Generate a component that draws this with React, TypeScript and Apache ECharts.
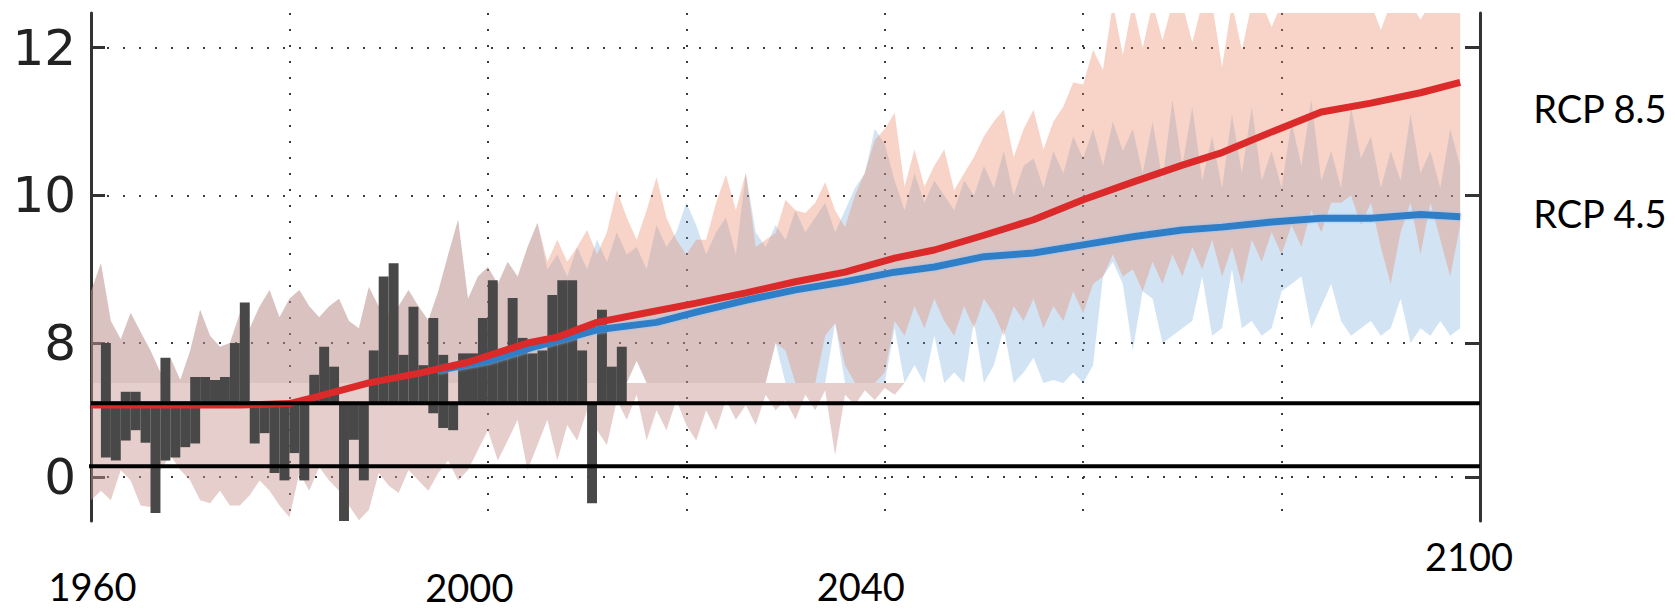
import { useEffect, useRef } from 'react';
import * as echarts from 'echarts';

// ---------- axis ticks ----------
const yTickValues = [6.183, 8, 10, 12];
const yTickLabels = ['0', '8', '10', '12'];
const xTickValues = [1960, 2000, 2040, 2100];
const xTickLabels = ['1960', '2000', '2040', '2100'];
// label placement relative to its tick: [dx, dy below the plot bottom]
const xLabelShift = [[1.5, 65], [-18.5, 66], [-24, 65], [-11, 35]];

// ---------- ensemble ranges ----------
const bandStartYear = 1960;

// historical range (shared by both scenarios), 1960-2005
const histUpper = [8.7, 9.08, 8.3, 8.05, 8.41, 8.15, 7.9, 7.6, 7.8, 7.5, 7.9, 8.45, 8.1, 7.95, 8.0, 8.4, 8.2, 8.5, 8.72, 8.35, 8.6, 8.72, 8.5, 8.35, 8.5, 8.6, 8.3, 8.2, 8.76, 8.5, 8.4, 8.5, 8.72, 8.5, 8.31, 8.7, 9.2, 9.67, 8.6, 8.9, 9.03, 8.8, 9.1, 8.9, 9.3, 9.63];
const histLower = [7.46, 7.46, 7.46, 7.46, 7.46, 7.46, 7.46, 7.46, 7.46, 7.46, 7.46, 7.46, 7.46, 7.46, 7.46, 7.46, 7.46, 7.46, 7.46, 7.46, 7.46, 7.46, 7.46, 7.46, 7.46, 7.46, 7.46, 7.46, 7.46, 7.46, 7.46, 7.46, 7.46, 7.46, 7.46, 7.46, 7.46, 7.46, 7.46, 7.46, 7.46, 7.46, 7.46, 7.46, 7.46, 7.46];

// RCP 8.5 range, 2006-2098
const rcp85Upper = [9.1, 9.4, 9.1, 9.3, 9.53, 9.2, 9.5, 10.07, 9.7, 9.4, 9.8, 10.25, 9.7, 9.4, 9.2, 9.4, 9.4, 9.9, 10.28, 9.8, 10.31, 9.3, 9.4, 9.49, 9.94, 9.8, 9.76, 9.9, 10.18, 9.8, 9.57, 10.0, 10.31, 10.75, 10.9, 11.12, 10.12, 10.62, 10.12, 10.4, 10.62, 10.07, 10.3, 10.52, 10.8, 11.0, 11.16, 10.52, 10.9, 11.16, 10.62, 11.0, 11.2, 11.53, 11.5, 11.97, 11.7, 12.6, 11.9, 12.6, 12.0, 12.6, 12.1, 12.6, 12.6, 12.07, 12.6, 12.6, 11.74, 12.6, 11.97, 12.6, 12.6, 12.28, 12.6, 12.6, 12.6, 12.6, 12.6, 12.6, 12.6, 12.6, 12.6, 12.6, 12.24, 12.6, 12.6, 12.6, 12.38, 12.6, 12.6, 12.6, 12.6];
const rcp85Lower = [7.46, 7.46, 7.46, 7.46, 7.46, 7.46, 7.46, 7.46, 7.46, 7.76, 7.46, 7.46, 7.46, 7.46, 7.46, 7.46, 7.46, 7.46, 7.46, 7.46, 7.46, 7.46, 7.46, 8.0, 7.9, 7.46, 7.46, 7.46, 8.1, 8.27, 7.7, 7.46, 7.46, 7.46, 7.6, 8.3, 8.1, 8.5, 8.2, 8.6, 8.3, 8.1, 8.5, 8.2, 8.6, 8.4, 8.1, 8.5, 8.3, 8.6, 8.2, 8.5, 8.3, 8.7, 8.4, 8.8, 8.9, 9.2, 8.9, 9.0, 8.7, 9.1, 8.8, 9.2, 8.9, 9.3, 9.0, 9.4, 8.9, 9.3, 8.8, 9.4, 9.1, 9.5, 9.2, 9.6, 9.3, 9.8, 9.5, 9.9, 9.9, 10.0, 9.6, 9.9, 9.3, 8.8, 9.5, 9.9, 9.2, 9.9, 9.4, 8.9, 9.6];

// RCP 4.5 range, 2006-2098
const rcp45Upper = [9.0, 9.2, 8.9, 9.3, 9.0, 9.4, 9.1, 9.5, 9.2, 9.3, 9.0, 9.6, 9.3, 9.5, 9.9, 9.6, 9.2, 9.5, 9.7, 9.2, 10.3, 9.5, 9.3, 9.6, 9.4, 9.8, 9.5, 9.7, 9.9, 9.5, 9.8, 10.1, 10.3, 10.9, 10.7, 10.2, 9.8, 10.3, 9.9, 10.2, 10.0, 9.8, 10.2, 10.0, 10.4, 10.1, 10.6, 10.0, 10.4, 10.5, 10.1, 10.6, 10.3, 10.8, 10.5, 10.9, 10.4, 11.0, 10.6, 10.9, 10.3, 11.0, 10.2, 11.3, 10.4, 11.2, 10.2, 10.8, 10.1, 11.1, 10.3, 11.2, 10.2, 10.6, 10.1, 11.0, 10.4, 11.3, 10.2, 10.6, 10.1, 11.2, 10.5, 10.8, 10.1, 10.6, 10.2, 11.1, 10.3, 10.6, 10.1, 10.9, 10.4];
const rcp45Lower = [7.46, 7.46, 7.46, 7.46, 7.46, 7.46, 7.46, 7.46, 7.46, 7.76, 7.46, 7.46, 7.46, 7.46, 7.46, 7.46, 7.46, 7.46, 7.46, 7.46, 7.46, 7.46, 7.46, 8.0, 7.46, 7.46, 7.46, 7.46, 7.46, 8.27, 7.46, 7.46, 7.46, 7.46, 7.46, 8.2, 7.46, 7.7, 7.46, 8.1, 7.46, 7.6, 7.46, 8.3, 7.46, 7.7, 8.2, 7.46, 7.6, 7.8, 7.46, 7.5, 7.46, 7.6, 7.46, 7.7, 8.9, 9.1, 8.8, 7.9, 8.7, 8.6, 8.0, 8.1, 8.2, 8.3, 8.9, 8.1, 8.2, 9.0, 8.2, 8.3, 8.1, 8.2, 8.7, 8.8, 8.9, 8.2, 8.5, 8.8, 8.3, 8.1, 8.2, 8.3, 8.1, 8.2, 8.6, 8.0, 8.2, 8.1, 8.3, 8.1, 8.2];

// lower strip of the range, 1960-2042 (top edge at the strip cut)
const stripTop = 7.46;
const stripLower = [5.87, 6.0, 5.87, 6.28, 6.14, 5.8, 5.78, 6.28, 6.48, 6.28, 6.14, 5.87, 5.83, 6.0, 5.8, 5.8, 5.94, 6.14, 6.0, 5.8, 5.64, 6.24, 6.0, 6.32, 6.14, 6.0, 5.8, 5.6, 5.74, 6.24, 6.07, 5.97, 6.28, 6.14, 6.0, 6.24, 6.41, 6.14, 6.28, 6.55, 6.82, 6.41, 6.68, 6.96, 6.28, 6.62, 6.96, 6.41, 6.89, 6.68, 7.09, 6.82, 6.62, 7.23, 6.96, 7.3, 6.68, 7.09, 6.82, 7.23, 6.89, 6.68, 7.09, 6.82, 7.23, 6.96, 7.16, 6.89, 7.3, 7.09, 7.23, 6.96, 7.3, 7.09, 7.36, 6.48, 7.3, 7.16, 7.36, 7.23, 7.39, 7.3, 7.46];

// ---------- observations (bar bottom, bar top), 1960-2013 ----------
const obsStartYear = 1960;
const obsBars = [
  [7.19, 7.19], [6.45, 8.0], [6.41, 7.19], [6.68, 7.34], [6.82, 7.34], [6.65, 7.19], [5.7, 7.19], [6.41, 7.8], [6.45, 7.19], [6.59, 7.19],
  [6.64, 7.54], [7.19, 7.54], [7.19, 7.5], [7.19, 7.54], [7.19, 8.0], [7.19, 8.55], [6.64, 7.19], [6.78, 7.19], [6.24, 7.19], [6.14, 7.19],
  [6.51, 7.19], [6.14, 7.19], [7.19, 7.57], [7.19, 7.95], [7.19, 7.68], [5.57, 7.19], [6.69, 7.19], [6.14, 7.19], [7.19, 7.9], [7.19, 8.9],
  [7.19, 9.08], [7.19, 7.84], [7.19, 8.49], [7.19, 7.7], [7.05, 8.34], [6.85, 7.84], [6.82, 7.19], [7.19, 7.86], [7.19, 7.86], [7.19, 8.34],
  [7.19, 8.85], [7.19, 7.9], [7.19, 8.61], [7.19, 8.07], [7.19, 7.86], [7.19, 7.9], [7.19, 8.65], [7.19, 8.85], [7.19, 8.85], [7.19, 7.9],
  [5.83, 7.19], [7.19, 8.45], [7.19, 7.68], [7.19, 7.95],
];

// ---------- ensemble means ----------
const rcp85MeanYears = [1960, 1965, 1970, 1975, 1980, 1983, 1988, 1993, 1998, 2004, 2007, 2011, 2016, 2021, 2026, 2031, 2036, 2041, 2045, 2050, 2055, 2060, 2065, 2070, 2074, 2079, 2084, 2089, 2094, 2098];
const rcp85MeanValues = [7.16, 7.16, 7.16, 7.16, 7.18, 7.28, 7.46, 7.59, 7.74, 8.0, 8.08, 8.28, 8.41, 8.54, 8.68, 8.83, 8.96, 9.15, 9.26, 9.46, 9.67, 9.94, 10.18, 10.41, 10.58, 10.86, 11.13, 11.25, 11.39, 11.53];
const rcp45MeanYears = [1995, 2000, 2005, 2011, 2017, 2021, 2026, 2031, 2036, 2041, 2045, 2050, 2055, 2060, 2065, 2070, 2074, 2079, 2084, 2089, 2094, 2098];
const rcp45MeanValues = [7.63, 7.76, 7.96, 8.18, 8.28, 8.42, 8.58, 8.72, 8.83, 8.96, 9.03, 9.17, 9.22, 9.33, 9.44, 9.53, 9.57, 9.64, 9.69, 9.69, 9.74, 9.71];

// ---------- reference lines ----------
const refLineUpper = [[1960, 7.186], [2100, 7.186]];
const refLineLower = [[1958.3, 6.332], [2100, 6.332]];

const scenarioNames = ['RCP 8.5', 'RCP 4.5'];

const Y_MIN = 5.59;
const Y_MAX = 12.47;
const LABEL_FONT = 'Lato';

function bandSeries(id: string, lo: number[], hi: number[], startYear: number, color: string) {
  const years = lo.map((_, i) => startYear + i);
  return {
    type: 'custom',
    id,
    silent: true,
    clip: true,
    encode: { x: 0, y: [1, 2] },
    data: years.map((y, i) => [y, lo[i], hi[i]]),
    renderItem: (params: any, api: any) => {
      if (params.dataIndex !== 0) return null;
      const upper = years.map((y, i) => api.coord([y, hi[i]]));
      const lower = years.map((y, i) => api.coord([y, lo[i]])).reverse();
      return {
        type: 'polygon',
        shape: { points: upper.concat(lower) },
        style: { fill: color, stroke: 'none' },
      };
    },
  };
}

export default function App() {
  const ref = useRef<HTMLDivElement>(null);
  useEffect(() => {
    const chart = echarts.init(ref.current as HTMLDivElement, null, { renderer: 'svg' });

    const rcp45Lo = histLower.concat(rcp45Lower);
    const rcp45Hi = histUpper.concat(rcp45Upper);
    const rcp85Lo = histLower.concat(rcp85Lower);
    const rcp85Hi = histUpper.concat(rcp85Upper);
    const stripHi = stripLower.map(() => stripTop);

    const dotted = { color: '#3a3a3a', width: 2, type: [2, 14] as any };

    const option: any = {
      animation: false,
      backgroundColor: '#fff',
      grid: { left: 91, right: 195, top: 13, bottom: 89, containLabel: false, outerBoundsMode: 'none' },
      xAxis: {
        type: 'value',
        min: 1960,
        max: 2100,
        interval: 20,
        axisLine: { show: false },
        axisTick: { show: false },
        splitLine: { show: true, lineStyle: dotted },
        axisLabel: { show: false },
      },
      yAxis: [
        {
          type: 'value',
          position: 'left',
          min: Y_MIN,
          max: Y_MAX,
          axisLine: { show: true, lineStyle: { color: '#333', width: 3 } },
          axisTick: { show: true, inside: true, length: 14, customValues: yTickValues, lineStyle: { color: '#333', width: 3 } },
          axisLabel: {
            customValues: yTickValues,
            margin: 15,
            fontFamily: 'DejaVu Sans',
            fontSize: 50,
            color: '#222',
            formatter: (v: number) => {
              const i = yTickValues.findIndex((t) => Math.abs(t - v) < 0.01);
              return i >= 0 ? yTickLabels[i] : '';
            },
          },
          splitLine: { show: true, lineStyle: dotted },
        },
        {
          type: 'value',
          position: 'right',
          min: Y_MIN,
          max: Y_MAX,
          axisLine: { show: true, lineStyle: { color: '#333', width: 3 } },
          axisTick: { show: true, inside: true, length: 15, customValues: yTickValues, lineStyle: { color: '#333', width: 3 } },
          axisLabel: { show: false },
          splitLine: { show: false },
        },
      ],
      series: [
        bandSeries('rcp45Range', rcp45Lo, rcp45Hi, bandStartYear, 'rgba(105,165,218,0.3)'),
        bandSeries('rcp85Range', rcp85Lo, rcp85Hi, bandStartYear, 'rgba(235,132,98,0.35)'),
        bandSeries('stripRange', stripLower, stripHi, bandStartYear, 'rgba(200,150,145,0.47)'),
        {
          type: 'custom',
          id: 'obs',
          silent: true,
          clip: true,
          encode: { x: 0, y: [1, 2] },
          data: obsBars.map((b, i) => [obsStartYear + i, b[0], b[1]]),
          renderItem: (_p: any, api: any) => {
            const year = api.value(0);
            const top = api.coord([year, api.value(2)]);
            const bottom = api.coord([year + 1, api.value(1)]);
            return {
              type: 'rect',
              shape: { x: top[0], y: top[1], width: bottom[0] - top[0], height: bottom[1] - top[1] },
              style: { fill: '#484848' },
            };
          },
        },
        {
          type: 'line',
          id: 'rcp45Mean',
          symbol: 'none',
          silent: true,
          data: rcp45MeanYears.map((y, i) => [y, rcp45MeanValues[i]]),
          lineStyle: { color: '#2d7ec8', width: 7, shadowColor: 'rgba(140,195,245,0.9)', shadowBlur: 3 },
          endLabel: {
            show: true,
            formatter: scenarioNames[1],
            distance: 73,
            offset: [0, -4],
            fontFamily: LABEL_FONT,
            fontSize: 38,
            color: '#000',
          },
        },
        {
          type: 'line',
          id: 'rcp85Mean',
          symbol: 'none',
          silent: true,
          data: rcp85MeanYears.map((y, i) => [y, rcp85MeanValues[i]]),
          lineStyle: { color: '#dc2a2a', width: 7 },
          endLabel: {
            show: true,
            formatter: scenarioNames[0],
            distance: 73,
            offset: [0, 26],
            fontFamily: LABEL_FONT,
            fontSize: 38,
            color: '#000',
          },
        },
        {
          type: 'line',
          id: 'refUpper',
          symbol: 'none',
          silent: true,
          clip: false,
          data: refLineUpper,
          lineStyle: { color: '#000', width: 4 },
          z: 5,
        },
        {
          type: 'line',
          id: 'refLower',
          symbol: 'none',
          silent: true,
          clip: false,
          data: refLineLower,
          lineStyle: { color: '#000', width: 4 },
          z: 5,
        },
      ],
    };
    chart.setOption(option);

    // year labels below the plot, placed from the x axis scale
    const baseY = chart.convertToPixel({ yAxisIndex: 0 }, Y_MIN) as number;
    const graphics = xTickValues.map((v, i) => {
      const px = chart.convertToPixel({ xAxisIndex: 0 }, v) as number;
      return {
        type: 'text',
        x: px + xLabelShift[i][0],
        y: baseY + xLabelShift[i][1],
        silent: true,
        style: {
          text: xTickLabels[i],
          fontFamily: LABEL_FONT,
          fontSize: 38,
          fill: '#000',
          align: 'center',
          verticalAlign: 'middle',
        },
      };
    });
    chart.setOption({ graphic: graphics });

    return () => chart.dispose();
  }, []);
  return (
    <div
      ref={ref}
      style={{ position: 'absolute', left: 0, top: 0, width: 1675, height: 610, background: '#fff' }}
    />
  );
}
